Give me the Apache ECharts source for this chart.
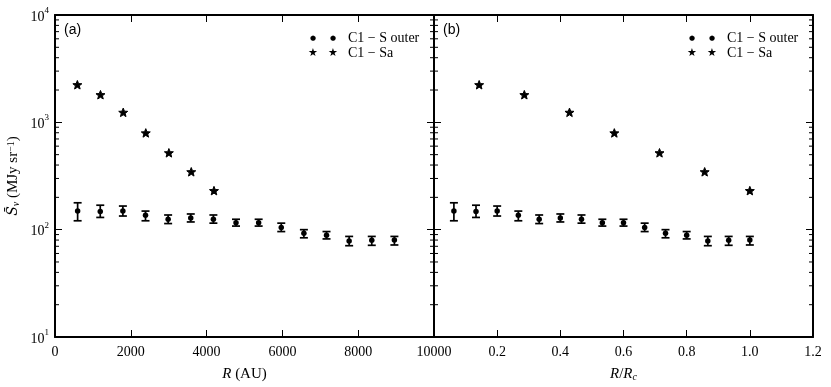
<!DOCTYPE html>
<html>
<head>
<meta charset="utf-8">
<script src="https://cdn.jsdelivr.net/npm/echarts@6/dist/echarts.min.js"></script>
<style>
html,body{margin:0;padding:0;background:#fff;}
#chart{width:831px;height:387px;}
</style>
</head>
<body>
<div id="chart"></div>
<script>
// C1 - S outer (annuli), mean with error bar ends
var outerR = [597, 1194, 1791, 2388, 2985, 3582, 4179, 4776, 5373, 5970, 6567, 7164, 7761, 8358, 8955];
var outerRRc = [0.063, 0.133, 0.2, 0.267, 0.333, 0.4, 0.467, 0.533, 0.6, 0.667, 0.733, 0.8, 0.867, 0.933, 1.0];
var outerS = [149, 148, 149, 136, 125, 128.5, 125, 116, 116, 105, 92.6, 88.7, 78.5, 79.7, 80];
var outerLow = [121, 130, 134, 121, 114, 118, 115, 108, 108, 96, 84, 82, 70.9, 71.5, 72];
var outerHigh = [178, 169, 166, 149, 137, 140, 137, 125, 125, 115, 100, 96, 86.5, 86.5, 86.5];
// C1 - Sa
var saR = [590, 1200, 1800, 2395, 3005, 3595, 4195];
var saRRc = [0.143, 0.286, 0.429, 0.571, 0.714, 0.857, 1.0];
var saS = [2239, 1808, 1239, 797, 520, 346, 231];
// log minor ticks
var minorTicks = [20, 30, 40, 50, 60, 70, 80, 90, 200, 300, 400, 500, 600, 700, 800, 900, 2000, 3000, 4000, 5000, 6000, 7000, 8000, 9000];

var serif = 'Liberation Serif';
var star = 'path://M0,-10 L2.6,-3.4 L9.51,-3.09 L4.1,1.3 L5.878,8.09 L0,4.3 L-5.878,8.09 L-4.1,1.3 L-9.51,-3.09 L-2.6,-3.4 Z';

function pairs(xs, ys) {
    return xs.map(function (x, i) { return [x, ys[i]]; });
}
function errRows(xs) {
    return xs.map(function (x, i) { return [x, outerLow[i], outerHigh[i]]; });
}
function renderErr(params, api) {
    var lo = api.coord([api.value(0), api.value(1)]);
    var hi = api.coord([api.value(0), api.value(2)]);
    var st = { stroke: '#000', lineWidth: 1.7 };
    return {
        type: 'group',
        children: [
            { type: 'line', shape: { x1: lo[0], y1: lo[1], x2: hi[0], y2: hi[1] }, style: st },
            { type: 'line', shape: { x1: lo[0] - 4, y1: lo[1], x2: lo[0] + 4, y2: lo[1] }, style: st },
            { type: 'line', shape: { x1: hi[0] - 4, y1: hi[1], x2: hi[0] + 4, y2: hi[1] }, style: st }
        ]
    };
}
function minorRender(xmax) {
    return function (params, api) {
        var a = api.coord([0, api.value(0)]);
        var b = api.coord([xmax, api.value(0)]);
        var st = { stroke: '#000', lineWidth: 1 };
        return {
            type: 'group',
            children: [
                { type: 'line', shape: { x1: a[0], y1: a[1], x2: a[0] + 4, y2: a[1] }, style: st },
                { type: 'line', shape: { x1: b[0] - 4, y1: b[1], x2: b[0], y2: b[1] }, style: st }
            ]
        };
    };
}

var lineStyle = { color: '#000', width: 2 };
var tick = { inside: true, length: 7, lineStyle: { color: '#000', width: 1 } };
var labelStyle = { fontFamily: serif, fontSize: 14, color: '#000', margin: 8 };
var nameStyle = {
    fontFamily: serif, fontSize: 15, color: '#000',
    rich: {
        i: { fontFamily: serif, fontSize: 15, fontStyle: 'italic', color: '#000' },
        ib: { fontFamily: 'DejaVu Serif', fontSize: 14, fontStyle: 'italic', color: '#000' },
        n: { fontFamily: serif, fontSize: 15, color: '#000' },
        sub: { fontFamily: serif, fontSize: 10, fontStyle: 'italic', verticalAlign: 'bottom', color: '#000' },
        sup: { fontFamily: serif, fontSize: 10, verticalAlign: 'top', color: '#000' }
    }
};

function xAxisCfg(grid, max, interval, pos, labels, name) {
    return {
        gridIndex: grid, type: 'value', min: 0, max: max, interval: interval, position: pos,
        axisLine: { show: true, onZero: false, lineStyle: lineStyle },
        axisTick: tick,
        axisLabel: labels ? Object.assign({}, labelStyle, {
            formatter: function (v) { return (grid === 1) ? (v === 0 ? '' : v.toFixed(1)) : String(v); }
        }) : { show: false },
        splitLine: { show: false },
        name: name || '', nameLocation: 'middle', nameGap: 30, nameTextStyle: nameStyle
    };
}
function yAxisCfg(grid, pos, labels, name) {
    return {
        gridIndex: grid, type: 'log', logBase: 10, min: 10, max: 10000, position: pos,
        axisLine: { show: true, onZero: false, lineStyle: lineStyle },
        axisTick: tick,
        axisLabel: labels ? {
            margin: 6,
            formatter: function (v) { return '{b|10}{s|' + Math.round(Math.log10(v)) + '}'; },
            rich: {
                b: { fontFamily: serif, fontSize: 14, color: '#000', lineHeight: 18, verticalAlign: 'bottom' },
                s: { fontFamily: serif, fontSize: 9, color: '#000', verticalAlign: 'top' }
            }
        } : { show: false },
        splitLine: { show: false },
        name: name || '', nameLocation: 'middle', nameGap: 34, nameTextStyle: nameStyle
    };
}

function legendCfg(left) {
    return {
        left: left, top: 26, orient: 'vertical', itemGap: 1,
        icon: 'none', itemWidth: 0, itemHeight: 12,
        selectedMode: false,
        data: ['C1 − S outer', 'C1 − Sa'],
        formatter: function (name) {
            var g = name === 'C1 − Sa' ? '{st|★}{st|★}' : '{ci|●}{ci|●}';
            return g + '{t|' + name + '}';
        },
        textStyle: {
            rich: {
                ci: { fontFamily: 'DejaVu Sans', fontSize: 7, color: '#000', width: 20, align: 'center' },
                st: { fontFamily: 'DejaVu Sans', fontSize: 11, color: '#000', width: 20, align: 'center' },
                t: { fontFamily: serif, fontSize: 14, color: '#000', padding: [0, 0, 0, 5] }
            }
        }
    };
}

var chart = echarts.init(document.getElementById('chart'), null, { renderer: 'canvas' });
var option = {
    animation: false,
    backgroundColor: '#fff',
    title: [
        { text: '(a)', left: 64, top: 23, padding: 0, textStyle: { fontFamily: 'Liberation Sans', fontSize: 14, fontWeight: 'normal', color: '#000' } },
        { text: '(b)', left: 443, top: 23, padding: 0, textStyle: { fontFamily: 'Liberation Sans', fontSize: 14, fontWeight: 'normal', color: '#000' } }
    ],
    legend: [legendCfg(293), legendCfg(672)],
    grid: [
        { left: 55, top: 15, width: 379, height: 323 },
        { left: 434, top: 15, width: 379, height: 323 }
    ],
    xAxis: [
        xAxisCfg(0, 10000, 2000, 'bottom', true, '{i|R} {n|(AU)}'),
        xAxisCfg(0, 10000, 2000, 'top', false),
        xAxisCfg(1, 1.2, 0.2, 'bottom', true, '{i|R}{n|/}{i|R}{sub|c}'),
        xAxisCfg(1, 1.2, 0.2, 'top', false)
    ],
    yAxis: [
        yAxisCfg(0, 'left', true, '{ib|S\u0304}{sub|ν}{n| (MJy sr}{sup|−1}{n|)}'),
        yAxisCfg(0, 'right', false),
        yAxisCfg(1, 'left', false),
        yAxisCfg(1, 'right', false)
    ],
    series: [
        { type: 'custom', xAxisIndex: 0, yAxisIndex: 0, clip: false, silent: true, data: minorTicks.map(function (v) { return [v]; }), renderItem: minorRender(10000) },
        { type: 'custom', xAxisIndex: 2, yAxisIndex: 2, clip: false, silent: true, data: minorTicks.map(function (v) { return [v]; }), renderItem: minorRender(1.2) },
        { type: 'custom', xAxisIndex: 0, yAxisIndex: 0, silent: true, data: errRows(outerR), renderItem: renderErr },
        { type: 'custom', xAxisIndex: 2, yAxisIndex: 2, silent: true, data: errRows(outerRRc), renderItem: renderErr },
        { name: 'C1 − S outer', type: 'scatter', xAxisIndex: 0, yAxisIndex: 0, symbol: 'circle', symbolSize: 5.5, itemStyle: { color: '#000', opacity: 1 }, data: pairs(outerR, outerS) },
        { name: 'C1 − Sa', type: 'scatter', xAxisIndex: 0, yAxisIndex: 0, symbol: star, symbolKeepAspect: true, symbolSize: 9, itemStyle: { color: '#000', opacity: 1, borderColor: '#000', borderWidth: 1 }, data: pairs(saR, saS) },
        { name: 'C1 − S outer', type: 'scatter', xAxisIndex: 2, yAxisIndex: 2, symbol: 'circle', symbolSize: 5.5, itemStyle: { color: '#000', opacity: 1 }, data: pairs(outerRRc, outerS) },
        { name: 'C1 − Sa', type: 'scatter', xAxisIndex: 2, yAxisIndex: 2, symbol: star, symbolKeepAspect: true, symbolSize: 9, itemStyle: { color: '#000', opacity: 1, borderColor: '#000', borderWidth: 1 }, data: pairs(saRRc, saS) }
    ]
};
chart.setOption(option);
</script>
</body>
</html>
